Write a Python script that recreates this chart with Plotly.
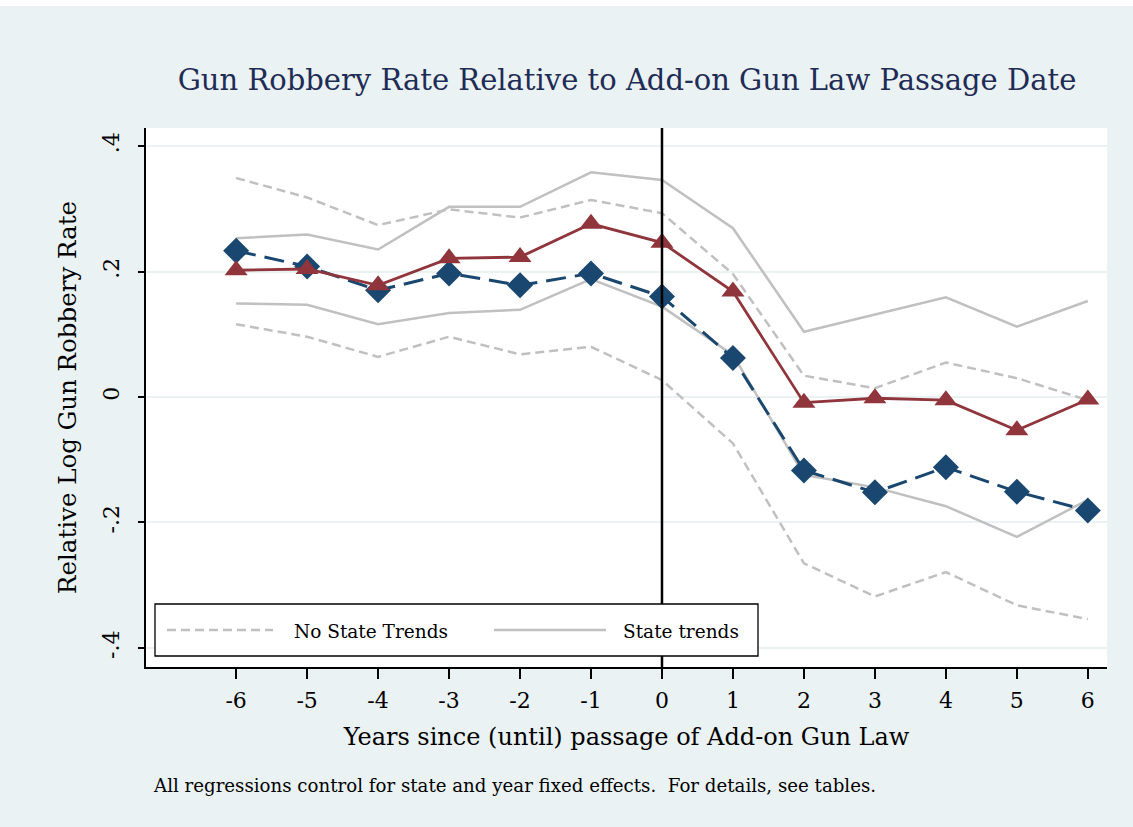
import plotly.graph_objects as go

# Event time relative to passage of the add-on gun law
years = [-6, -5, -4, -3, -2, -1, 0, 1, 2, 3, 4, 5, 6]

# Point estimates
state_trend_est = [0.233, 0.208, 0.170, 0.197, 0.178, 0.197, 0.160, 0.062, -0.117, -0.152, -0.112, -0.151, -0.181]
no_trend_est = [0.202, 0.204, 0.178, 0.221, 0.223, 0.276, 0.246, 0.168, -0.009, -0.002, -0.005, -0.053, -0.004]

# Confidence bands, model with state trends
st_upper = [0.253, 0.259, 0.235, 0.303, 0.303, 0.358, 0.346, 0.269, 0.104, 0.132, 0.159, 0.112, 0.153]
st_lower = [0.149, 0.147, 0.116, 0.134, 0.139, 0.188, 0.144, 0.067, -0.124, -0.144, -0.174, -0.223, -0.164]

# Confidence bands, model without state trends
nst_upper = [0.349, 0.318, 0.274, 0.299, 0.286, 0.314, 0.293, 0.196, 0.034, 0.014, 0.055, 0.030, -0.005]
nst_lower = [0.116, 0.096, 0.064, 0.096, 0.068, 0.080, 0.027, -0.074, -0.265, -0.318, -0.279, -0.332, -0.354]

y_ticks = [-0.4, -0.2, 0, 0.2, 0.4]
y_tick_text = ["-.4", "-.2", "0", ".2", ".4"]

BG = "#EAF2F3"
GRAY = "#C0C0C0"
BLUE = "#1A476F"
RED = "#90353B"
FONT = "DejaVu Serif"

fig = go.Figure()

for vals in (nst_upper, nst_lower):
    fig.add_trace(go.Scatter(x=years, y=vals, mode="lines",
                             line=dict(color=GRAY, width=2.5, dash="9px,5px"),
                             showlegend=False, hoverinfo="skip"))
for vals in (st_upper, st_lower):
    fig.add_trace(go.Scatter(x=years, y=vals, mode="lines",
                             line=dict(color=GRAY, width=2.5),
                             showlegend=False, hoverinfo="skip"))

fig.add_trace(go.Scatter(x=years, y=state_trend_est, mode="lines+markers",
                         line=dict(color=BLUE, width=3, dash="20px,9px"),
                         marker=dict(symbol="diamond", size=20, color=BLUE),
                         showlegend=False))
fig.add_trace(go.Scatter(x=years, y=no_trend_est, mode="lines+markers",
                         line=dict(color=RED, width=2.8),
                         marker=dict(symbol="triangle-up", size=20, color=RED),
                         showlegend=False))

# Plot area geometry (pixels) used to place the hand-built legend
L, R, T, B = 146, 1107, 128, 667
W, H = R - L, B - T


def px(x):
    return (x - L) / W


def py(y):
    return (B - y) / H


shapes = [
    # thin white strip along the top edge of the graph region
    dict(type="rect", xref="paper", yref="paper", x0=px(-10), x1=px(1143), y0=py(6), y1=py(-10),
         fillcolor="white", line=dict(width=0), layer="below"),
    # passage date marker
    dict(type="line", xref="x", yref="paper", x0=0, x1=0, y0=0, y1=1,
         line=dict(color="black", width=2.5), layer="above"),
    # legend box
    dict(type="rect", xref="paper", yref="paper", x0=px(155), x1=px(758), y0=py(656), y1=py(604),
         fillcolor="white", line=dict(color="black", width=1.3), layer="above"),
    dict(type="line", xref="paper", yref="paper", x0=px(167), x1=px(273), y0=py(630), y1=py(630),
         line=dict(color=GRAY, width=2.5, dash="9px,5px"), layer="above"),
    dict(type="line", xref="paper", yref="paper", x0=px(494), x1=px(606), y0=py(630), y1=py(630),
         line=dict(color=GRAY, width=2.5), layer="above"),
]

annotations = [
    dict(text="No State Trends", xref="paper", yref="paper", x=px(292), y=py(631),
         xanchor="left", yanchor="middle", showarrow=False,
         font=dict(family=FONT, size=18.5, color="black")),
    dict(text="State trends", xref="paper", yref="paper", x=px(621), y=py(631),
         xanchor="left", yanchor="middle", showarrow=False,
         font=dict(family=FONT, size=18.5, color="black")),
    dict(text="All regressions control for state and year fixed effects.&nbsp; For details, see tables.",
         xref="paper", yref="paper", x=px(151), y=py(785), xanchor="left", yanchor="middle",
         showarrow=False, font=dict(family=FONT, size=18.2, color="black")),
]

fig.update_layout(
    width=1133, height=827,
    margin=dict(l=L, r=1133 - R, t=T, b=827 - B),
    paper_bgcolor=BG, plot_bgcolor="white",
    title=dict(text="Gun Robbery Rate Relative to Add-on Gun Law Passage Date",
               x=627 / 1133, xanchor="center", y=1 - 80 / 827, yanchor="middle",
               font=dict(family=FONT, size=29, color="#1F2C56")),
    shapes=shapes, annotations=annotations, showlegend=False,
    font=dict(family=FONT, color="black"),
)

fig.update_xaxes(
    range=[-7.27, 6.27], tickmode="array", tickvals=years,
    ticktext=[str(v) for v in years],
    showgrid=False, zeroline=False, showline=True, linecolor="black", linewidth=1.5,
    ticks="outside", ticklen=10, tickwidth=1.5, tickcolor="black",
    tickfont=dict(family=FONT, size=22), ticklabelstandoff=3,
    title=dict(text="Years since (until) passage of Add-on Gun Law",
               font=dict(family=FONT, size=24), standoff=16),
)
fig.update_yaxes(
    range=[-0.4303, 0.4287], tickmode="array", tickvals=y_ticks, ticktext=y_tick_text,
    tickangle=-90, showgrid=True, gridcolor=BG, gridwidth=2, zeroline=False,
    showline=True, linecolor="black", linewidth=1.5,
    ticks="outside", ticklen=6, tickwidth=1.5, tickcolor="black",
    tickfont=dict(family=FONT, size=22), ticklabelstandoff=10,
    title=dict(text="Relative Log Gun Robbery Rate",
               font=dict(family=FONT, size=24.5), standoff=16),
)

fig.write_html("out.html")
